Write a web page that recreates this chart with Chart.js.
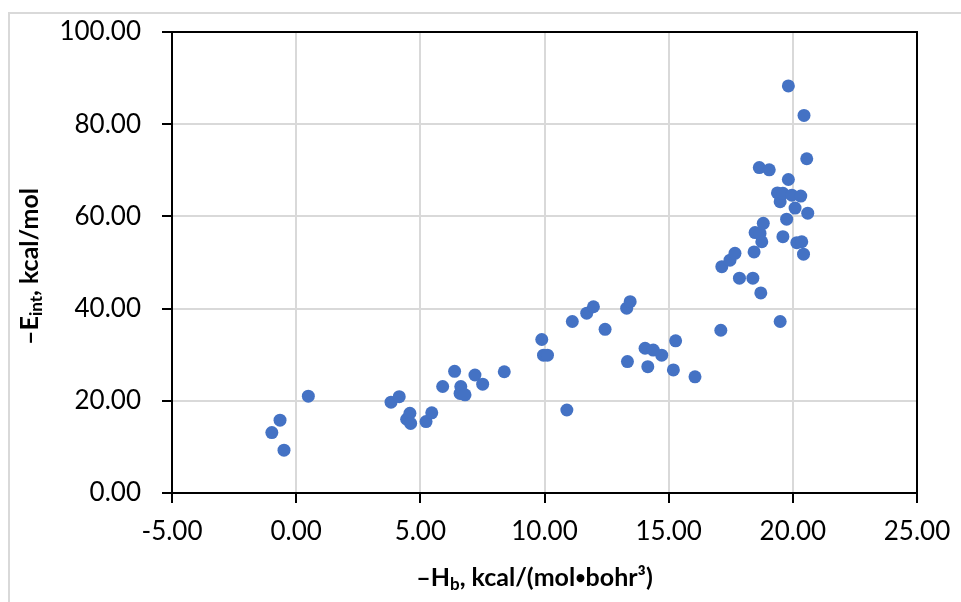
<!DOCTYPE html>
<html>
<head>
<meta charset="utf-8">
<script src="https://cdn.jsdelivr.net/npm/chart.js@4"></script>
<style>
    body { margin: 0; background: #fff; }
    canvas { display: block; }
</style>
</head>
<body>
<canvas id="scatterChart" width="961" height="602"></canvas>
<script>

// =========================
// DATA
// =========================

const hbValues = [
    -0.98, -0.65, -0.49, 0.49,
    3.82, 4.15, 4.45, 4.58, 4.61, 5.23, 5.46, 5.90, 6.38, 6.60, 6.63, 6.80,
    7.20, 7.51, 8.38, 9.89, 9.96, 10.12, 10.90, 11.12, 11.70, 11.97, 12.44,
    13.31, 13.45, 13.34, 14.05, 14.16, 14.38, 14.72, 15.19, 15.28, 16.06,
    17.10, 17.85, 18.39, 18.71, 19.49,
    17.14, 17.47, 17.67, 18.44, 18.75, 18.48, 18.68, 18.81, 19.60, 19.75,
    20.16, 20.36, 20.43, 19.49, 20.09, 20.60, 19.38, 19.60, 19.96, 20.32,
    19.82, 18.65, 19.05, 20.56, 20.45, 19.82
];

const eintValues = [
    13.1, 15.8, 9.3, 21.0,
    19.7, 20.9, 16.0, 17.3, 15.1, 15.5, 17.4, 23.1, 26.4, 21.6, 23.1, 21.3,
    25.6, 23.6, 26.3, 33.3, 29.9, 29.9, 18.0, 37.2, 39.0, 40.4, 35.5,
    40.1, 41.5, 28.5, 31.4, 27.4, 31.0, 29.9, 26.7, 33.0, 25.2,
    35.3, 46.6, 46.6, 43.4, 37.2,
    49.1, 50.5, 52.0, 52.3, 54.5, 56.5, 56.3, 58.5, 55.6, 59.4,
    54.3, 54.5, 51.8, 63.2, 61.8, 60.7, 65.1, 65.0, 64.6, 64.4,
    68.0, 70.6, 70.1, 72.5, 81.9, 88.3
];

const xTicks = [-5, 0, 5, 10, 15, 20, 25];
const yTicks = [0, 20, 40, 60, 80, 100];

const xTitleParts = [
    { text: '\u2013H' },
    { text: 'b', sub: true },
    { text: ', kcal/(mol' },
    { text: '\u2022', small: true },
    { text: 'bohr\u00B3)' }
];

const yTitleParts = [
    { text: '\u2013E' },
    { text: 'int', sub: true },
    { text: ', kcal/mol' }
];

const points = hbValues.map((x, i) => ({ x: x, y: eintValues[i] }));

// =========================
// TITLE HELPER
// =========================

const FONT = 'Lato, "Open Sans", sans-serif';

function partFont(p){
    if (p.sub) return 'bold 17px ' + FONT;
    if (p.small) return 'bold 18px ' + FONT;
    return 'bold 25px ' + FONT;
}

function drawRichText(ctx, parts, cx, cy){

    let width = 0;

    parts.forEach(p => {
        ctx.font = partFont(p);
        p.w = ctx.measureText(p.text).width;
        width += p.w;
    });

    let x = cx - width / 2;

    ctx.textBaseline = 'middle';
    ctx.textAlign = 'left';
    ctx.fillStyle = '#000';

    parts.forEach(p => {
        ctx.font = partFont(p);
        ctx.fillText(p.text, x, p.sub ? cy + 7 : cy);
        x += p.w;
    });

}

// =========================
// FRAME + TITLES PLUGIN
// =========================

const framePlugin = {

    id: 'frame',

    beforeDraw(chart){
        const ctx = chart.ctx;
        ctx.save();
        ctx.fillStyle = '#fff';
        ctx.fillRect(0, 0, chart.width, chart.height);
        ctx.strokeStyle = '#d9d9d9';
        ctx.lineWidth = 2;
        ctx.strokeRect(9, 13, 1000, 1000);
        ctx.restore();
    },

    afterDraw(chart){
        const ctx = chart.ctx;
        const a = chart.chartArea;

        ctx.save();
        ctx.strokeStyle = '#000';
        ctx.lineWidth = 2;
        ctx.beginPath();
        ctx.moveTo(a.left, a.top);
        ctx.lineTo(a.right, a.top);
        ctx.lineTo(a.right, a.bottom);
        ctx.stroke();

        drawRichText(ctx, xTitleParts, (a.left + a.right) / 2 - 10, 578);

        ctx.translate(30, (a.top + a.bottom) / 2 + 4);
        ctx.rotate(-Math.PI / 2);
        drawRichText(ctx, yTitleParts, 0, 0);
        ctx.restore();
    }

};

// =========================
// CHART
// =========================

const ctx = document.getElementById('scatterChart');

new Chart(ctx, {

    type: 'scatter',

    data: {
        datasets: [{
            data: points,
            backgroundColor: '#4472C4',
            borderColor: '#4472C4',
            borderWidth: 0,
            pointRadius: 6.5,
            pointHoverRadius: 6.5
        }]
    },

    options: {

        responsive: false,
        animation: false,
        events: [],

        layout: {
            padding: { top: 32, right: 44, left: 0, bottom: 0 }
        },

        plugins: {
            legend: { display: false },
            tooltip: { enabled: false }
        },

        scales: {

            x: {
                type: 'linear',
                min: -5,
                max: 25,
                afterBuildTicks: scale => {
                    scale.ticks = xTicks.map(v => ({ value: v }));
                },
                afterFit: scale => {
                    scale.height = 109;
                    scale.paddingLeft = 0;
                    scale.paddingRight = 0;
                },
                grid: {
                    color: '#d9d9d9',
                    lineWidth: 2,
                    tickColor: '#000',
                    tickLength: 10,
                    tickWidth: 2
                },
                border: { color: '#000', width: 2 },
                ticks: {
                    color: '#000',
                    padding: 13,
                    maxRotation: 0,
                    font: { family: FONT, size: 26 },
                    callback: v => v.toFixed(2)
                }
            },

            y: {
                type: 'linear',
                min: 0,
                max: 100,
                afterBuildTicks: scale => {
                    scale.ticks = yTicks.map(v => ({ value: v }));
                },
                afterFit: scale => {
                    scale.width = 172;
                    scale.paddingTop = 0;
                    scale.paddingBottom = 0;
                },
                grid: {
                    color: '#d9d9d9',
                    lineWidth: 2,
                    tickColor: '#000',
                    tickLength: 10,
                    tickWidth: 2
                },
                border: { color: '#000', width: 2 },
                ticks: {
                    color: '#000',
                    padding: 21,
                    font: { family: FONT, size: 26 },
                    callback: v => v.toFixed(2)
                }
            }

        }

    },

    plugins: [framePlugin]

});

</script>
</body>
</html>
